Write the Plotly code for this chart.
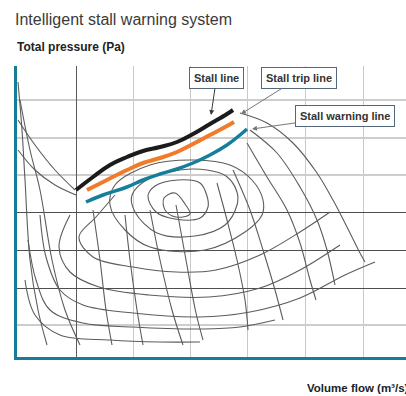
import plotly.graph_objects as go

# ---- chart values (relative units: volume flow on x, total pressure on y) ----
stall_x = [59, 76, 93, 110, 126, 143, 160, 176, 193, 210, 216]
stall_y = [167, 180, 192, 200, 206, 210, 215, 223, 233, 243, 247]

trip_x = [70, 86, 110, 126, 143, 160, 176, 193, 210, 217]
trip_y = [167, 175, 187, 194, 199, 205, 213, 222, 231, 235]

warning_x = [69, 86, 110, 126, 143, 160, 176, 193, 210, 223, 230]
warning_y = [155, 162, 170, 177, 183, 188, 194, 202, 212, 222, 228]

# background fan map (gray) curves
speed_1 = [(223, 244), (250, 234), (276, 214), (300, 184), (316, 157), (330, 130), (343, 104), (348, 95)]
speed_2 = [(233, 227), (260, 204), (283, 170), (300, 137), (310, 107), (318, 72)]
speed_3 = [(230, 214), (250, 180), (270, 147), (283, 114), (293, 77), (299, 57)]
speed_4 = [(216, 187), (233, 147), (246, 107), (258, 67), (266, 37)]
speed_5 = [(200, 174), (210, 137), (220, 97), (228, 57), (231, 27)]
angle_1 = [(159, 152), (169, 97), (179, 44), (186, 17)]
angle_2 = [(133, 147), (143, 97), (155, 47), (166, 12)]
angle_3 = [(108, 142), (113, 97), (120, 47), (126, 12)]
angle_4 = [(76, 147), (83, 97), (89, 47), (95, 12)]
angle_5 = [(3, 257), (13, 207), (23, 167), (35, 97), (48, 47), (63, 12)]
angle_6 = [(1, 275), (5, 227), (8, 177), (13, 97), (21, 47), (30, 12)]
web_1 = [(1, 237), (18, 212), (38, 187), (58, 167)]
web_2 = [(1, 207), (18, 187), (38, 172), (59, 162)]
eff_1 = [(168, 153), (158, 164), (147, 159), (148, 147), (159, 140), (173, 143), (168, 153)]
eff_2 = [(190, 161), (183, 174), (161, 177), (138, 171), (131, 161), (139, 145), (158, 138), (183, 139), (191, 150), (190, 161)]
eff_3 = [(220, 165), (209, 181), (190, 187), (163, 187), (133, 179), (115, 162), (118, 145), (140, 124), (178, 121), (208, 132), (220, 152), (220, 165)]
eff_4 = [(246, 157), (235, 177), (213, 192), (178, 197), (133, 192), (98, 172), (93, 152), (108, 127), (133, 110), (188, 107), (228, 125), (245, 142), (246, 157)]
eff_5 = [(98, 162), (79, 140), (62, 120), (76, 100), (116, 90), (159, 85), (199, 87), (243, 102), (283, 125), (313, 145)]
eff_6 = [(53, 142), (42, 110), (53, 85), (82, 70), (132, 62), (192, 60), (243, 69), (283, 87), (323, 112)]
eff_7 = [(23, 142), (29, 100), (43, 67), (66, 52), (116, 44), (182, 40), (233, 45), (283, 59), (328, 82), (358, 95)]
eff_8 = [(11, 117), (19, 77), (33, 47), (66, 34), (116, 30), (186, 28), (223, 30), (258, 37)]
eff_9 = [(8, 77), (18, 42), (43, 22), (93, 17), (143, 15), (183, 15)]

map_curves = [speed_1, speed_2, speed_3, speed_4, speed_5,
              angle_1, angle_2, angle_3, angle_4, angle_5, angle_6,
              web_1, web_2,
              eff_1, eff_2, eff_3, eff_4, eff_5, eff_6, eff_7, eff_8, eff_9]

# grid positions
grid_x_major = [59]
grid_x_minor = [116, 173, 230, 288, 346]
grid_y_major = [69, 107, 145]
grid_y_minor = [32, 182, 219, 257]

# annotation callouts: label, arrow tip (x, y), box centre (x, y)
callout_labels = ["Stall line", "Stall trip line", "Stall warning line"]
callout_tip_x = [194, 224, 235]
callout_tip_y = [242, 243, 228]
callout_box_x = [199.5, 281.5, 328]
callout_box_y = [279, 279, 241]

FONT = "Liberation Sans, Arial, Helvetica, sans-serif"
TEAL_AXIS = "#177c98"

fig = go.Figure()

for curve in map_curves:
    fig.add_trace(go.Scatter(
        x=[p[0] for p in curve], y=[p[1] for p in curve],
        mode="lines", line=dict(color="#5c5c5c", width=1.1, shape="spline"),
        hoverinfo="skip", showlegend=False))

fig.add_trace(go.Scatter(x=stall_x, y=stall_y, mode="lines", name="Stall line",
                         line=dict(color="#1b1b1b", width=4, shape="spline", smoothing=1.3),
                         showlegend=False))
fig.add_trace(go.Scatter(x=trip_x, y=trip_y, mode="lines", name="Stall trip line",
                         line=dict(color="#ef7b2b", width=4, shape="spline", smoothing=1.3),
                         showlegend=False))
fig.add_trace(go.Scatter(x=warning_x, y=warning_y, mode="lines", name="Stall warning line",
                         line=dict(color="#147e9b", width=3.5, shape="spline", smoothing=1.3),
                         showlegend=False))

arrow_colors = ["#3a3a3a", "#777777", "#777777"]
for i, lab in enumerate(callout_labels):
    fig.add_annotation(
        x=callout_tip_x[i], y=callout_tip_y[i], xref="x", yref="y",
        ax=callout_box_x[i], ay=callout_box_y[i], axref="x", ayref="y",
        text="<b>" + lab + "</b>", showarrow=True,
        arrowhead=2, arrowsize=1, arrowwidth=1, arrowcolor=arrow_colors[i],
        font=dict(family=FONT, size=11, color="#333333"),
        bgcolor="white", bordercolor="#52677a", borderwidth=1, borderpad=4)

fig.add_annotation(text="<b>Total pressure (Pa)</b>", xref="paper", yref="paper",
                   x=-0.005, y=1.0636, xanchor="left", yanchor="middle", showarrow=False,
                   font=dict(family=FONT, size=12, color="#222222"))
fig.add_annotation(text="<b>Volume flow (m³/s)</b>", xref="paper", yref="paper",
                   x=0.7405, y=-0.1082, xanchor="left", yanchor="middle", showarrow=False,
                   font=dict(family=FONT, size=11.5, color="#222222"))

fig.update_layout(
    width=406, height=396,
    margin=dict(l=17, r=0, t=66, b=39),
    paper_bgcolor="white", plot_bgcolor="white",
    title=dict(text="Intelligent stall warning system", x=15 / 406, xanchor="left",
               xref="container", yref="container", y=1 - 19 / 396, yanchor="middle",
               font=dict(family=FONT, size=16, color="#3a3a3a")),
    xaxis=dict(range=[0, 389], showline=True, linecolor=TEAL_AXIS, linewidth=3,
               mirror=False, zeroline=False, showticklabels=False, ticks="",
               tickmode="array", tickvals=grid_x_major, showgrid=True,
               gridcolor="#5a5a5a", gridwidth=1.2,
               minor=dict(tickmode="array", tickvals=grid_x_minor, showgrid=True,
                          gridcolor="#c9c9c9", gridwidth=1.2, ticks="")),
    yaxis=dict(range=[0, 291], showline=True, linecolor=TEAL_AXIS, linewidth=3,
               mirror=False, zeroline=False, showticklabels=False, ticks="",
               tickmode="array", tickvals=grid_y_major, showgrid=True,
               gridcolor="#4e4e4e", gridwidth=1.3,
               minor=dict(tickmode="array", tickvals=grid_y_minor, showgrid=True,
                          gridcolor="#cdcdcd", gridwidth=1.8, ticks="")),
)

# the page's default 8px body margin would shift the fixed-size figure
fig.write_html("out.html", config={"displayModeBar": False},
               post_script="document.body.style.margin='0px';")
